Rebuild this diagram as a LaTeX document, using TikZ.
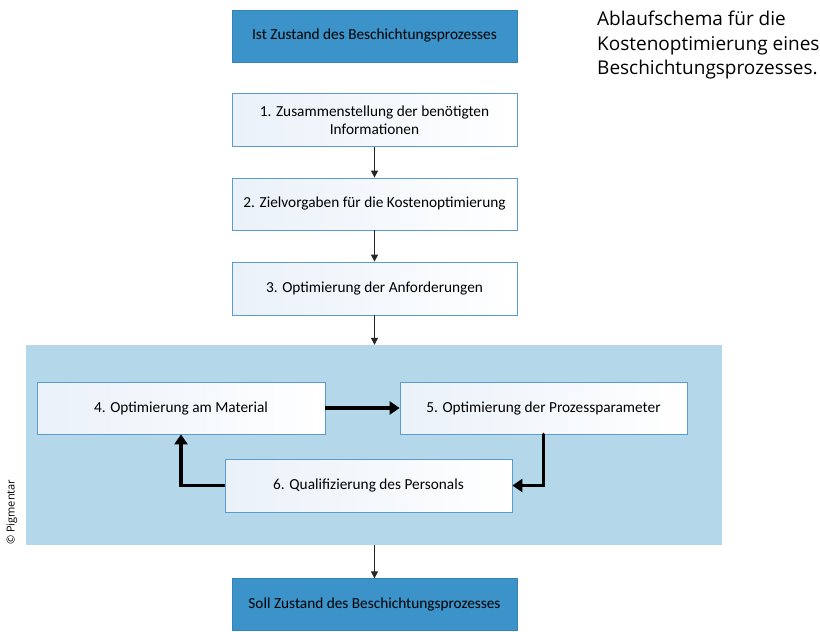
\documentclass[tikz,border=0pt]{standalone}
\usepackage{fontspec}
\setmainfont{Carlito}
\newfontfamily\titlefont{Open Sans}
\usetikzlibrary{arrows.meta}
\definecolor{darkblue}{HTML}{3B93C9}
\definecolor{panelblue}{HTML}{B4D7EA}
\definecolor{boxline}{HTML}{5A9BD0}
\definecolor{boxtint}{HTML}{EAF1F9}
\tikzset{
  x=1pt, y=-1pt,
  stepbox/.style={draw=boxline, line width=0.8pt, left color=boxtint, right color=white, minimum width=285pt, minimum height=53pt, align=center, font=\fontsize{15.3}{18}\selectfont, inner sep=0pt},
  statebox/.style={fill=darkblue, draw=darkblue!90!black, line width=0.3pt, minimum width=285pt, minimum height=52pt, align=center, font=\fontsize{15.3}{18}\selectfont, inner sep=0pt},
  thin arrow/.style={draw=black!85, line width=1.2pt, -{Triangle[length=7pt,width=7pt]}},
  thick arrow/.style={draw=black, line width=3.5pt, -{Triangle[length=10pt,width=13pt]}},
}
\begin{document}
\begin{tikzpicture}
\useasboundingbox (0,0) rectangle (820,632);
% panel
\node[fill=panelblue, minimum width=696pt, minimum height=200pt, inner sep=0pt] (panel) at (374,445) {};
% state boxes
\node[statebox] (ist) at (374.5,36) {Ist Zustand des Beschichtungsprozesses};
\node[statebox] (soll) at (374.5,604.5) {Soll Zustand des Beschichtungsprozesses};
% steps
\node[stepbox] (s1) at (374.5,120) {1. Zusammenstellung der benötigten\\Informationen};
\node[stepbox, minimum height=52pt] (s2) at (374.5,204) {2. Zielvorgaben für die Kostenoptimierung};
\node[stepbox] (s3) at (374.5,288.5) {3. Optimierung der Anforderungen};
\node[stepbox, minimum width=288pt, minimum height=52pt] (s4) at (181,408) {4. Optimierung am Material};
\node[stepbox, minimum width=287pt, minimum height=52pt] (s5) at (543.5,408) {5. Optimierung der Prozessparameter};
\node[stepbox, minimum width=287pt] (s6) at (368.5,485.5) {6. Qualifizierung des Personals};
% thin arrows
\draw[thin arrow] (s1.south) -- (s2.north);
\draw[thin arrow] (s2.south) -- (s3.north);
\draw[thin arrow] (s3.south) -- (s3.south |- panel.north);
\draw[thin arrow] (soll.north |- panel.south) -- (soll.north);
% thick arrows
\draw[thick arrow] (s4.east) -- (s5.west);
\draw[thick arrow, line cap=round] (s5.south) |- (s6.east);
\draw[thick arrow] (s6.west) -| (s4.south);
% title
\node[anchor=north west, align=left, inner sep=0pt, font=\titlefont\fontsize{19}{24.5}\selectfont] (title) at (597,11) {Ablaufschema für die\\Kostenoptimierung eines\\Beschichtungsprozesses.};
% copyright
\node[rotate=90, anchor=west, inner sep=0pt, font=\titlefont\fontsize{11}{12}\selectfont] (copy) at (12,545) {© Pigmentar};
\end{tikzpicture}
\end{document}
